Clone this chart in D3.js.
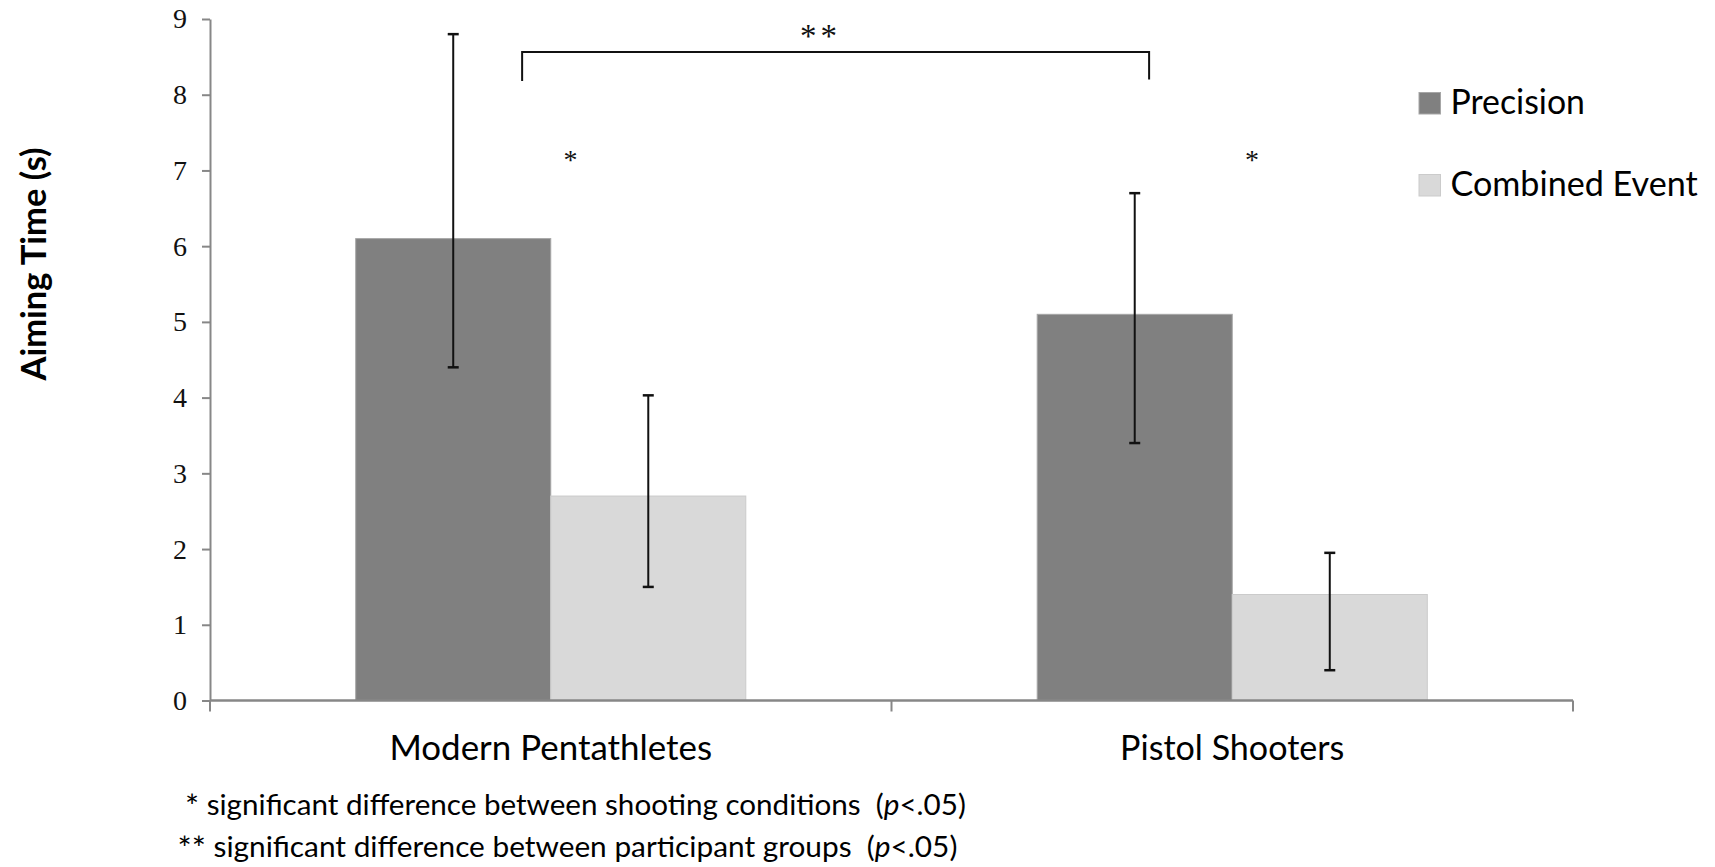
<!DOCTYPE html>
<html>
<head>
<meta charset="utf-8">
<script src="https://cdn.jsdelivr.net/npm/d3@7"></script>
<style>
  html, body { margin: 0; padding: 0; background: #fff; }
  svg { display: block; }
  .sans { font-family: Lato, "Open Sans", sans-serif; fill: #000; }
  .serif { font-family: "Liberation Serif", "Times New Roman", serif; fill: #111; }
</style>
</head>
<body>
<svg id="chart" width="1715" height="867"></svg>
<script>
// Aiming time (s) by participant group and shooting condition
const groups = ["Modern Pentathletes", "Pistol Shooters"];
const series = ["Precision", "Combined Event"];
const precisionMean = [6.1, 5.1];
const precisionLow = [4.4, 3.4];
const precisionHigh = [8.8, 6.7];
const combinedMean = [2.7, 1.4];
const combinedLow = [1.5, 0.4];
const combinedHigh = [4.03, 1.95];
const yTicks = [0, 1, 2, 3, 4, 5, 6, 7, 8, 9];
const footnotes = [
  { stars: "*", text: " significant difference between shooting conditions  (", p: "p", tail: "<.05)" },
  { stars: "**", text: " significant difference between participant groups  (", p: "p", tail: "<.05)" }
];

const colors = { "Precision": "#808080", "Combined Event": "#d9d9d9" };
const edges = { "Precision": "#a6a6a6", "Combined Event": "#cbcbcb" };

const rows = groups.map((g, i) => ({
  group: g,
  bars: [
    { key: "Precision", mean: precisionMean[i], low: precisionLow[i], high: precisionHigh[i] },
    { key: "Combined Event", mean: combinedMean[i], low: combinedLow[i], high: combinedHigh[i] }
  ]
}));

const svg = d3.select("#chart");
const plot = { left: 210, right: 1573, top: 19, bottom: 700.5 };

const y = d3.scaleLinear().domain([0, 9]).range([plot.bottom, plot.top]);
const x = d3.scaleBand().domain(groups).range([plot.left, plot.right]).padding(0);
const xs = d3.scaleBand().domain(series).range([0, x.bandwidth()])
  .paddingInner(0).paddingOuter(0.747);

const axisColor = "#878787";

// Scale text so its rendered width matches a target width
function fitWidth(sel, target) {
  const node = sel.node();
  const base = parseFloat(sel.attr("font-size"));
  const w = node.getComputedTextLength();
  sel.attr("font-size", (base * target / w).toFixed(2));
  return sel;
}

// Bars
const gGroups = svg.append("g").selectAll("g").data(rows).join("g")
  .attr("transform", d => `translate(${x(d.group)},0)`);

gGroups.selectAll("rect").data(d => d.bars).join("rect")
  .attr("x", d => xs(d.key))
  .attr("y", d => y(d.mean))
  .attr("width", xs.bandwidth())
  .attr("height", d => y(0) - y(d.mean))
  .attr("fill", d => colors[d.key])
  .attr("stroke", d => edges[d.key])
  .attr("stroke-width", 1);

// Error bars
const capW = 11;
const eb = gGroups.selectAll("g.err").data(d => d.bars).join("g").attr("class", "err")
  .attr("stroke", "#111").attr("stroke-width", 2);
eb.append("line")
  .attr("x1", d => xs(d.key) + xs.bandwidth() / 2)
  .attr("x2", d => xs(d.key) + xs.bandwidth() / 2)
  .attr("y1", d => y(d.low)).attr("y2", d => y(d.high));
eb.append("line")
  .attr("x1", d => xs(d.key) + xs.bandwidth() / 2 - capW / 2)
  .attr("x2", d => xs(d.key) + xs.bandwidth() / 2 + capW / 2)
  .attr("y1", d => y(d.high)).attr("y2", d => y(d.high))
  .attr("stroke-width", 2.5);
eb.append("line")
  .attr("x1", d => xs(d.key) + xs.bandwidth() / 2 - capW / 2)
  .attr("x2", d => xs(d.key) + xs.bandwidth() / 2 + capW / 2)
  .attr("y1", d => y(d.low)).attr("y2", d => y(d.low))
  .attr("stroke-width", 2.5);

// Y axis
const yAxis = svg.append("g")
  .attr("transform", `translate(${plot.left},0)`)
  .call(d3.axisLeft(y).tickValues(yTicks).tickFormat(d3.format("d"))
    .tickSizeInner(8).tickSizeOuter(0).tickPadding(15));
yAxis.select(".domain").attr("stroke", axisColor).attr("stroke-width", 2);
yAxis.selectAll(".tick line").attr("stroke", axisColor).attr("stroke-width", 2);
yAxis.selectAll(".tick text")
  .attr("class", "serif").attr("font-size", 28).attr("fill", "#111")
  .attr("font-family", "'Liberation Serif', 'Times New Roman', serif");

// X axis: baseline with ticks at the category boundaries
const xAxis = svg.append("g").attr("transform", `translate(0,${plot.bottom})`);
xAxis.append("line")
  .attr("x1", plot.left).attr("x2", plot.right)
  .attr("stroke", axisColor).attr("stroke-width", 2.5);
const bounds = groups.map(g => x(g)).concat([x(groups[groups.length - 1]) + x.bandwidth()]);
xAxis.selectAll("line.bt").data(bounds).join("line").attr("class", "bt")
  .attr("x1", d => d).attr("x2", d => d)
  .attr("y1", 0).attr("y2", 11)
  .attr("stroke", axisColor).attr("stroke-width", 2);

// Category labels
const catWidths = { "Modern Pentathletes": 322.6, "Pistol Shooters": 224.4 };
groups.forEach(g => {
  const t = svg.append("text").attr("class", "sans")
    .attr("x", x(g) + x.bandwidth() / 2).attr("y", 760)
    .attr("text-anchor", "middle").attr("font-size", 34).text(g);
  fitWidth(t, catWidths[g]);
});

// Y axis title
const yt = svg.append("text").attr("class", "sans")
  .attr("transform", "translate(46,264) rotate(-90)")
  .attr("text-anchor", "middle").attr("font-weight", 700)
  .attr("font-size", 30).text("Aiming Time (s)");
fitWidth(yt, 233);

// Legend
const legendY = [114, 196];
series.forEach((s, i) => {
  svg.append("rect")
    .attr("x", 1419).attr("y", legendY[i] - 21.5)
    .attr("width", 21.5).attr("height", 21.5)
    .attr("fill", colors[s]).attr("stroke", edges[s]).attr("stroke-width", 1);
  const t = svg.append("text").attr("class", "sans")
    .attr("x", 1450.5).attr("y", legendY[i])
    .attr("font-size", 34).text(s);
  fitWidth(t, i === 0 ? 134.5 : 247.2);
});

// Significance markers between conditions (within each group)
groups.forEach(g => {
  svg.append("text").attr("class", "serif")
    .attr("x", x(g) + x.bandwidth() * 0.529).attr("y", y(7.02))
    .attr("text-anchor", "middle").attr("font-size", 28).text("*");
});

// Bracket between participant groups
const bx1 = x(groups[0]) + x.bandwidth() * 0.458;
const bx2 = x(groups[1]) + x.bandwidth() * 0.378;
svg.append("path")
  .attr("d", `M${bx1},${y(8.18)}V${y(8.565)}H${bx2}V${y(8.2)}`)
  .attr("fill", "none").attr("stroke", "#111").attr("stroke-width", 2);
svg.append("text").attr("class", "serif")
  .attr("x", (bx1 + bx2) / 2 - 15).attr("y", y(8.63))
  .attr("text-anchor", "middle").attr("font-size", 33)
  .attr("letter-spacing", 4).text("**");

// Footnotes
const footX = [185, 177.5];
const footY = [815, 857];
const footW = [781, 780];
footnotes.forEach((f, i) => {
  const t = svg.append("text").attr("class", "sans")
    .attr("x", footX[i]).attr("y", footY[i])
    .attr("font-size", 28).style("white-space", "pre");
  t.append("tspan").attr("font-size", "1.12em").attr("dy", "0.09em").text(f.stars);
  t.append("tspan").attr("dy", "-0.1em").text(f.text);
  t.append("tspan").attr("font-style", "italic").text(f.p);
  t.append("tspan").text(f.tail);
  fitWidth(t, footW[i]);
});
</script>
</body>
</html>
